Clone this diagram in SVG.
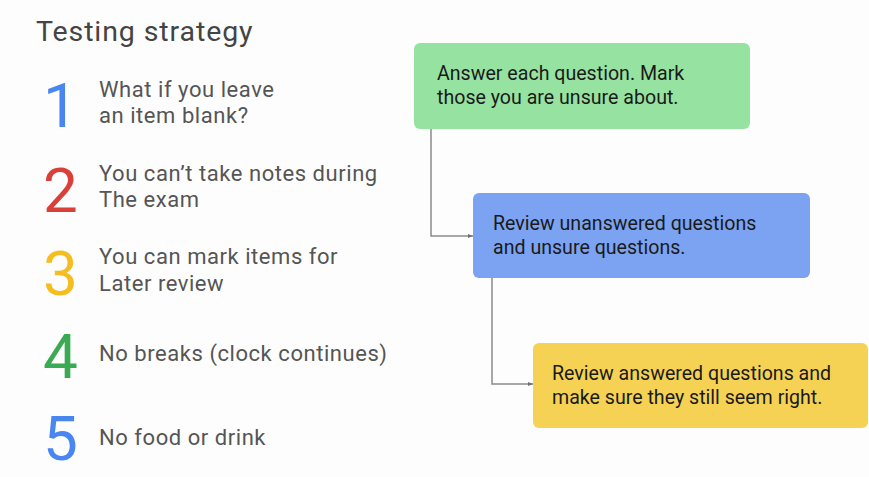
<svg xmlns="http://www.w3.org/2000/svg" width="869" height="477" viewBox="0 0 869 477">
  <defs>
    <style>
      .title { font-family: Roboto, "Liberation Sans", sans-serif; font-size: 28.5px; letter-spacing: 0.9px; fill: #444444; }
      .num { font-family: Roboto, "Liberation Sans", sans-serif; font-size: 62px; }
      .item { font-family: Roboto, "Liberation Sans", sans-serif; font-size: 22px; letter-spacing: 0.55px; fill: #555555; }
      .box { font-family: Roboto, "Liberation Sans", sans-serif; font-size: 19.6px; fill: #1a1a1a; }
      .conn { fill: none; stroke: #8a8a8a; stroke-width: 1.5; }
    </style>
    <marker id="arrow" viewBox="0 0 10 10" refX="10" refY="5" markerWidth="5" markerHeight="5" orient="auto" markerUnits="userSpaceOnUse">
      <path d="M0,1 L10,5 L0,9 Z" fill="#707070"/>
    </marker>
  </defs>
  <rect width="869" height="477" fill="#fdfdfd"/>

  <g id="title">
    <text class="title" x="36" y="41">Testing strategy</text>
  </g>

  <g id="item1">
    <text class="num" x="43" y="127" fill="#4a86f0">1</text>
    <text class="item" x="99" y="97">What if you leave</text>
    <text class="item" x="99" y="123">an item blank?</text>
  </g>
  <g id="item2">
    <text class="num" x="43" y="212" fill="#d9403a">2</text>
    <text class="item" x="99" y="181">You can’t take notes during</text>
    <text class="item" x="99" y="207">The exam</text>
  </g>
  <g id="item3">
    <text class="num" x="43" y="295" fill="#f5bd1f">3</text>
    <text class="item" x="99" y="264">You can mark items for</text>
    <text class="item" x="99" y="291">Later review</text>
  </g>
  <g id="item4">
    <text class="num" x="43" y="378" fill="#3aab52">4</text>
    <text class="item" x="99" y="361">No breaks (clock continues)</text>
  </g>
  <g id="item5">
    <text class="num" x="43" y="460" fill="#4a86f0">5</text>
    <text class="item" x="99" y="445">No food or drink</text>
  </g>

  <g id="connectors">
    <path class="conn" d="M431,129 V236 H473" marker-end="url(#arrow)"/>
    <path class="conn" d="M492,278 V384 H533" marker-end="url(#arrow)"/>
  </g>

  <g id="step1">
    <rect x="414" y="43" width="336" height="86" rx="6" fill="#96e2a0"/>
    <text class="box" x="437" y="80">Answer each question. Mark</text>
    <text class="box" x="437" y="104">those you are unsure about.</text>
  </g>
  <g id="step2">
    <rect x="473" y="193" width="337" height="85" rx="6" fill="#7ba3f2"/>
    <text class="box" x="493" y="230">Review unanswered questions</text>
    <text class="box" x="493" y="254">and unsure questions.</text>
  </g>
  <g id="step3">
    <rect x="533" y="343" width="335" height="85" rx="6" fill="#f5d254"/>
    <text class="box" x="552" y="380">Review answered questions and</text>
    <text class="box" x="552" y="404">make sure they still seem right.</text>
  </g>
</svg>
